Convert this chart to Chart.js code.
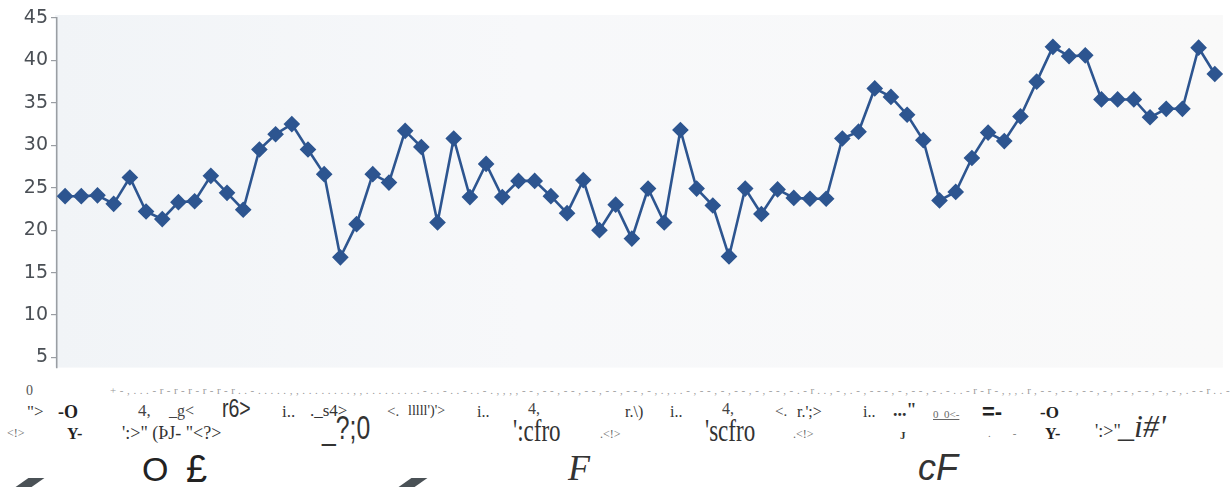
<!DOCTYPE html>
<html>
<head>
<meta charset="utf-8">
<script src="https://cdn.jsdelivr.net/npm/chart.js@4.4.1/dist/chart.umd.min.js"></script>
<style>
  html, body { margin: 0; padding: 0; background: #ffffff; width: 1232px; height: 495px; overflow: hidden; }
  #wrap { position: absolute; left: 0; top: 0; width: 1232px; height: 382px; }
  .t { position: absolute; white-space: nowrap; line-height: 1; color: #333; }
  .sf { font-family: "Liberation Serif", serif; }
  .ss { font-family: "Liberation Sans", sans-serif; }
  .bar { position: absolute; width: 16px; height: 9px; background: #4a5156; transform: skewX(-55deg); }
</style>
</head>
<body>
<div id="wrap"><canvas id="c" width="1232" height="382"></canvas></div>

<div class="t sf" style="left:26px;top:384px;font-size:14px;color:#555">0</div>
<div class="t sf" style="left:110px;top:385px;font-size:11px;color:#9a9a9a;letter-spacing:3.6px">+-,...-r-r-r-r-r-r..-.....,,........,,.........-..-..-..-.,,,,--,--,--,--,--,--,-,.,..-,--,-,--,-,--,-.-r..,-,.-,---,-,--,-.-..-r-r-,,,.r,--,--,--,-,--,--,-,-,.--r..--,</div>

<div class="t sf" style="left:27px;top:403px;font-size:17px">"&gt;</div>
<div class="t sf" style="left:58px;top:403px;font-size:18px;font-weight:bold;color:#222">-O</div>
<div class="t sf" style="left:138px;top:402px;font-size:17px;color:#444">4,</div>
<div class="t sf" style="left:169px;top:403px;font-size:16px;color:#444">_g&lt;</div>
<div class="t ss" style="left:222px;top:396px;font-size:25px;transform:scaleX(0.78);transform-origin:left">r6&gt;</div>
<div class="t sf" style="left:282px;top:403px;font-size:17px">i..</div>
<div class="t sf" style="left:310px;top:402px;font-size:17px">._s4&gt;</div>
<div class="t sf" style="left:387px;top:404px;font-size:15px;color:#444">&lt;.</div>
<div class="t sf" style="left:408px;top:404px;font-size:14px">lllll')'&gt;</div>
<div class="t sf" style="left:477px;top:404px;font-size:16px">i..</div>
<div class="t sf" style="left:528px;top:401px;font-size:16px;color:#444">4,</div>
<div class="t sf" style="left:625px;top:404px;font-size:16px">r.\)</div>
<div class="t sf" style="left:670px;top:404px;font-size:16px">i..</div>
<div class="t sf" style="left:722px;top:401px;font-size:16px;color:#444">4,</div>
<div class="t sf" style="left:775px;top:404px;font-size:15px;color:#444">&lt;.</div>
<div class="t sf" style="left:797px;top:404px;font-size:16px">r.';&gt;</div>
<div class="t sf" style="left:863px;top:404px;font-size:16px">i..</div>
<div class="t sf" style="left:893px;top:401px;font-size:18px;font-weight:bold">..."</div>
<div class="t sf" style="left:933px;top:409px;font-size:11px;color:#666;text-decoration:underline">0_0&lt;-</div>
<div class="t ss" style="left:982px;top:401px;font-size:22px;font-weight:bold;color:#222">=-</div>
<div class="t sf" style="left:1040px;top:404px;font-size:17px;font-weight:bold;color:#222">-O</div>

<div class="t sf" style="left:7px;top:427px;font-size:12px;color:#666">&lt;!&gt;</div>
<div class="t sf" style="left:67px;top:426px;font-size:16px;font-weight:bold;color:#222">Y-</div>
<div class="t sf" style="left:122px;top:424px;font-size:18px">':&gt;" (ÞJ- "&lt;?&gt;</div>
<div class="t ss" style="left:322px;top:411px;font-size:33px;transform:scaleX(0.75);transform-origin:left">_?;0</div>
<div class="t sf" style="left:513px;top:414px;font-size:32px;transform:scaleX(0.72);transform-origin:left">':cfro</div>
<div class="t sf" style="left:600px;top:428px;font-size:12px;color:#666">.&lt;!&gt;</div>
<div class="t sf" style="left:705px;top:414px;font-size:32px;transform:scaleX(0.72);transform-origin:left">'scfro</div>
<div class="t sf" style="left:793px;top:428px;font-size:12px;color:#666">.&lt;!&gt;</div>
<div class="t sf" style="left:900px;top:430px;font-size:11px;font-weight:bold">J</div>
<div class="t sf" style="left:988px;top:428px;font-size:11px;color:#777">.&nbsp;&nbsp;&nbsp;&nbsp;&nbsp;&nbsp;&nbsp;&nbsp;-</div>
<div class="t sf" style="left:1045px;top:426px;font-size:16px;font-weight:bold;color:#222">Y-</div>
<div class="t sf" style="left:1095px;top:422px;font-size:18px">':&gt;"</div>
<div class="t sf" style="left:1118px;top:410px;font-size:32px;font-style:italic">_i#'</div>

<div class="bar" style="left:22px;top:478px"></div>
<div class="t ss" style="left:142px;top:452px;font-size:34px;color:#222">O</div>
<div class="t ss" style="left:186px;top:450px;font-size:38px;color:#222">£</div>
<div class="bar" style="left:405px;top:478px"></div>
<div class="t sf" style="left:568px;top:450px;font-size:36px;font-style:italic;color:#333">F</div>
<div class="t ss" style="left:918px;top:450px;font-size:36px;font-style:italic;color:#333">cF</div>

<script>
const categories = ['1','2','3','4','5','6','7','8','9','10','11','12','13','14','15','16','17','18','19','20',
  '21','22','23','24','25','26','27','28','29','30','31','32','33','34','35','36','37','38','39','40',
  '41','42','43','44','45','46','47','48','49','50','51','52','53','54','55','56','57','58','59','60',
  '61','62','63','64','65','66','67','68','69','70','71','72'];
const seriesValues = [24.0, 24.0, 24.1, 23.1, 26.2, 22.2, 21.3, 23.3, 23.4, 26.4,
  24.4, 22.4, 29.5, 31.3, 32.5, 29.5, 26.6, 16.8, 20.7, 26.6,
  25.6, 31.7, 29.8, 20.9, 30.8, 23.9, 27.8, 23.9, 25.8, 25.8,
  24.0, 22.0, 25.9, 20.0, 23.0, 19.0, 24.9, 20.9, 31.8, 24.9,
  22.9, 16.9, 24.9, 21.9, 24.8, 23.8, 23.7, 23.7, 30.8, 31.6,
  36.7, 35.7, 33.6, 30.6, 23.5, 24.5, 28.5, 31.5, 30.5, 33.4,
  37.5, 41.6, 40.5, 40.6, 35.4, 35.4, 35.4, 33.3, 34.3, 34.3,
  41.5, 38.4];
const yTickValues = [5, 10, 15, 20, 25, 30, 35, 40, 45];

const plotBg = {
  id: 'plotBg',
  beforeDraw(chart) {
    const { ctx, chartArea: a } = chart;
    const g = ctx.createLinearGradient(a.left, 0, a.right, 0);
    g.addColorStop(0, '#f1f4f7');
    g.addColorStop(0.4, '#f7f8fa');
    g.addColorStop(1, '#f9f9f9');
    ctx.save();
    ctx.fillStyle = g;
    ctx.fillRect(a.left - 2, a.top - 3, a.right - a.left + 2, a.bottom - a.top + 3);
    ctx.restore();
  }
};

new Chart(document.getElementById('c'), {
  type: 'line',
  data: {
    labels: categories,
    datasets: [{
      data: seriesValues,
      borderColor: '#2d5590',
      backgroundColor: '#2d5590',
      borderWidth: 2.6,
      pointStyle: 'rectRot',
      pointRadius: 6.5,
      pointHoverRadius: 6.5,
      pointBackgroundColor: '#2d5590',
      pointBorderColor: '#2d5590',
      tension: 0
    }]
  },
  options: {
    responsive: false,
    animation: false,
    events: [],
    layout: { padding: { left: 0, right: 9, top: 18, bottom: 5 } },
    plugins: { legend: { display: false }, tooltip: { enabled: false } },
    scales: {
      x: {
        type: 'category',
        display: false,
        offset: true
      },
      y: {
        min: 3.8,
        max: 45,
        afterBuildTicks(scale) { scale.ticks = yTickValues.map(v => ({ value: v })); },
        afterFit(scale) { scale.width = 57; },
        border: { display: true, color: '#9a9ea3', width: 1.5 },
        grid: { drawOnChartArea: false, drawTicks: true, tickLength: 6, color: '#9a9ea3', lineWidth: 1.2 },
        ticks: {
          padding: 3,
          color: '#4a4f55',
          font: { family: 'DejaVu Sans', size: 19 }
        }
      }
    }
  },
  plugins: [plotBg]
});
</script>
</body>
</html>
